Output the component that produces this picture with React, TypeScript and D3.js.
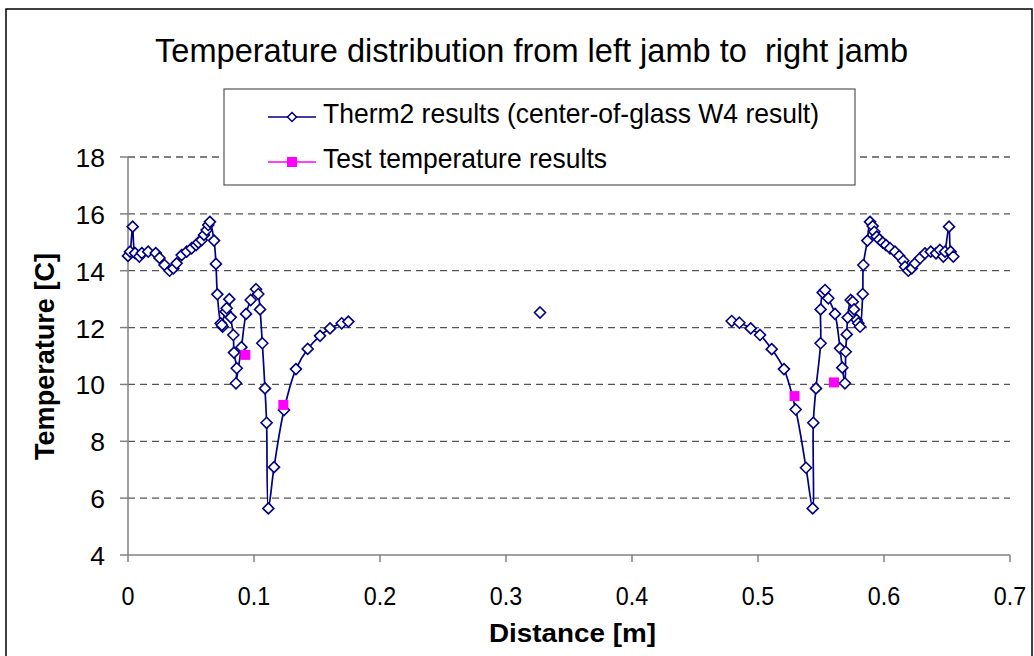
import React from "react";
import * as d3 from "d3";

const thermX: (number | null)[] = [
  0.0, 0.0016, 0.0037, 0.0056, 0.009, 0.011, 0.016, 0.022, 0.025, 0.029, 0.033, 0.036, 0.0386, 0.0426,
  0.0466, 0.0505, 0.054, 0.0558, 0.0585, 0.0603, 0.0624, 0.0637, 0.065, 0.0683, 0.0698, 0.0709, 0.0736,
  0.0751, 0.0745, 0.0775, 0.0783, 0.0804, 0.0815, 0.0836, 0.0841, 0.0863, 0.0857, 0.09, 0.0937, 0.0974,
  0.1016, 0.1034, 0.1048, 0.1066, 0.1087, 0.11, 0.1114, 0.1159, 0.1238, 0.1333, 0.1426, 0.1524, 0.1603,
  0.1696, 0.1749,
  null,
  0.327,
  null,
  0.4791, 0.4852, 0.4942, 0.5016, 0.5109, 0.5206, 0.5299, 0.5381, 0.5434, 0.5439, 0.546, 0.5497, 0.5497,
  0.5513, 0.5532, 0.5558, 0.5611, 0.5651, 0.5669, 0.569, 0.5696, 0.5704, 0.5712, 0.5736, 0.5752, 0.5762,
  0.5783, 0.5796, 0.581, 0.5831, 0.5836, 0.5868, 0.5889, 0.591, 0.5923, 0.5942, 0.5963, 0.599, 0.6016,
  0.6048, 0.6087, 0.6121, 0.6153, 0.6167, 0.6193, 0.622, 0.6246, 0.6286, 0.6325, 0.6371, 0.6413, 0.6444,
  0.6471, 0.6484, 0.6516, 0.6529, 0.655,
];
const thermY: (number | null)[] = [
  14.52, 14.67, 15.55, 14.62, 14.5, 14.62, 14.67, 14.62, 14.45, 14.2, 14.0, 14.08, 14.26, 14.55,
  14.67, 14.79, 14.9, 14.99, 15.08, 15.26, 15.43, 15.61, 15.72, 15.06, 14.24, 13.17, 12.15,
  12.03, 12.09, 12.56, 12.68, 13.0, 12.36, 11.74, 11.12, 10.57, 10.04, 11.31, 12.48, 12.97,
  13.35, 13.18, 12.64, 11.45, 9.86, 8.65, 5.64, 7.09, 9.1, 10.54, 11.25, 11.71, 11.97,
  12.15, 12.21,
  null,
  12.53,
  null,
  12.23, 12.17, 11.97, 11.74, 11.24, 10.54, 9.12, 7.07, 5.64, 8.65, 9.86, 11.45, 12.64,
  13.23, 13.32, 13.03, 12.48, 11.27, 10.59, 10.04, 11.15, 11.76, 12.35, 12.97, 12.91, 12.64,
  12.27, 12.15, 12.03, 13.18, 14.2, 15.06, 15.72, 15.57, 15.37, 15.2, 15.1, 14.99, 14.9,
  14.79, 14.67, 14.52, 14.35, 14.14, 14.0, 14.08, 14.26, 14.44, 14.61, 14.67, 14.61, 14.73,
  14.5, 14.67, 15.55, 14.67, 14.5,
];

const testX = [0.0931, 0.1233, 0.529, 0.5603];
const testY = [11.04, 9.28, 9.59, 10.07];

const xTicks = [0, 0.1, 0.2, 0.3, 0.4, 0.5, 0.6, 0.7];
const yTicks = [4, 6, 8, 10, 12, 14, 16, 18];

const titleText = "Temperature distribution from left jamb to\u00a0 right jamb";
const legendLabels = ["Therm2 results (center-of-glass W4 result)", "Test temperature results"];
const xTitle = "Distance [m]";
const yTitle = "Temperature [C]";

const NAVY = "#000080";
const MAGENTA = "#FF00FF";
const FONT = "'Liberation Sans', Arial, sans-serif";

export default function App() {
  const W = 1034;
  const H = 656;
  const x = d3.scaleLinear().domain([0, 0.7]).range([128, 1010]);
  const y = d3.scaleLinear().domain([4, 18]).range([555, 157]);

  const pts = thermX.map((v, i) => ({ x: v, y: thermY[i] }));
  const line = d3
    .line<{ x: number | null; y: number | null }>()
    .defined((d) => d.x !== null && d.y !== null)
    .x((d) => x(d.x as number))
    .y((d) => y(d.y as number))
    .curve(d3.curveCatmullRom.alpha(0.5));
  const pathD = line(pts) || "";

  const diamond = (cx: number, cy: number, r: number) =>
    `M${cx},${cy - r}L${cx + r},${cy}L${cx},${cy + r}L${cx - r},${cy}Z`;

  const [x0, x1] = x.range();
  const [yb, yt] = y.range();

  return (
    <svg width={W} height={H} style={{ position: "absolute", left: 0, top: 0, display: "block" }}>
      <rect x={0} y={0} width={W} height={H} fill="#fff" />
      <rect x={6} y={9} width={1026} height={700} fill="#fff" stroke="#000" strokeWidth={1.5} />

      <text
        x={155}
        y={62}
        fontFamily={FONT}
        fontSize={32.5}
        fill="#000"
        textLength={753}
        lengthAdjust="spacingAndGlyphs"
      >
        {titleText}
      </text>

      {/* gridlines */}
      {yTicks
        .filter((t) => t !== 4)
        .map((t) => (
          <line key={"g" + t} x1={x0} x2={x1} y1={y(t)} y2={y(t)} stroke="#555" strokeWidth={1.3} strokeDasharray="7,5" />
        ))}

      {/* axes */}
      <line x1={x0} x2={x0} y1={yt} y2={yb} stroke="#808080" strokeWidth={1.5} />
      <line x1={x0} x2={x1} y1={yb} y2={yb} stroke="#808080" strokeWidth={1.5} />
      {yTicks.map((t) => (
        <g key={"yt" + t}>
          <line x1={x0 - 8} x2={x0} y1={y(t)} y2={y(t)} stroke="#808080" strokeWidth={1.5} />
          <text x={105} y={y(t) + 10} textAnchor="end" fontFamily={FONT} fontSize={26.5} fill="#000">
            {t}
          </text>
        </g>
      ))}
      {xTicks.map((t) => (
        <g key={"xt" + t}>
          <line x1={x(t)} x2={x(t)} y1={yb} y2={yb + 7} stroke="#808080" strokeWidth={1.5} />
          <text
            transform={`translate(${x(t)},605) scale(0.88,1)`}
            textAnchor="middle"
            fontFamily={FONT}
            fontSize={26.5}
            fill="#000"
          >
            {t}
          </text>
        </g>
      ))}

      <text
        x={489}
        y={642}
        fontFamily={FONT}
        fontSize={26}
        fontWeight="bold"
        fill="#000"
        textLength={167}
        lengthAdjust="spacingAndGlyphs"
      >
        {xTitle}
      </text>
      <text
        transform={`translate(54,460) rotate(-90)`}
        fontFamily={FONT}
        fontSize={27}
        fontWeight="bold"
        fill="#000"
        textLength={207}
        lengthAdjust="spacingAndGlyphs"
      >
        {yTitle}
      </text>

      {/* therm2 line */}
      <path d={pathD} fill="none" stroke={NAVY} strokeWidth={1.7} />
      {pts
        .filter((p) => p.x !== null && p.y !== null)
        .map((p, i) => (
          <path
            key={"d" + i}
            d={diamond(x(p.x as number), y(p.y as number), 5.5)}
            fill="#fff"
            stroke={NAVY}
            strokeWidth={1.6}
          />
        ))}

      {/* test markers */}
      {testX.map((v, i) => (
        <rect key={"t" + i} x={x(v) - 5} y={y(testY[i]) - 5} width={10} height={10} fill={MAGENTA} />
      ))}

      {/* legend */}
      <rect x={224} y={89} width={631} height={96} fill="#fff" stroke="#555" strokeWidth={1.2} />
      <line x1={268} x2={316} y1={117} y2={117} stroke={NAVY} strokeWidth={1.6} />
      <path d={diamond(292, 117, 4.5)} fill="#fff" stroke={NAVY} strokeWidth={1.5} />
      <text
        x={323}
        y={123}
        fontFamily={FONT}
        fontSize={28}
        fill="#000"
        textLength={496}
        lengthAdjust="spacingAndGlyphs"
      >
        {legendLabels[0]}
      </text>
      <line x1={268} x2={316} y1={162} y2={162} stroke={MAGENTA} strokeWidth={1.6} />
      <rect x={287} y={157} width={10} height={10} fill={MAGENTA} />
      <text
        x={323}
        y={168}
        fontFamily={FONT}
        fontSize={28}
        fill="#000"
        textLength={284}
        lengthAdjust="spacingAndGlyphs"
      >
        {legendLabels[1]}
      </text>
    </svg>
  );
}
